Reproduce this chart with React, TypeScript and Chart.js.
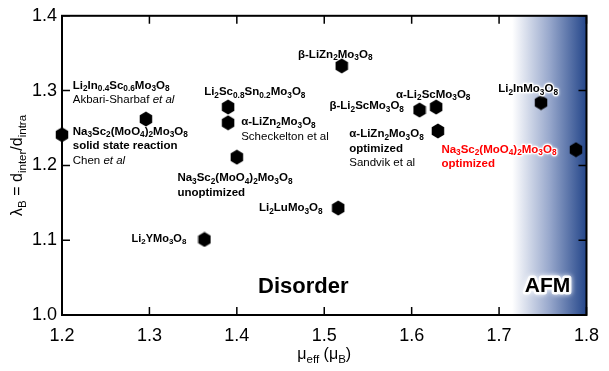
import React, { useEffect, useRef } from 'react';
import { Chart, registerables } from 'chart.js';

Chart.register(...registerables);

// ---- data ----
const compounds = [
  'Na3Sc2(MoO4)2Mo3O8 solid state reaction',
  'Li2In0.4Sc0.6Mo3O8',
  'Li2Sc0.8Sn0.2Mo3O8',
  'alpha-LiZn2Mo3O8 (Scheckelton)',
  'Na3Sc2(MoO4)2Mo3O8 unoptimized',
  'beta-LiZn2Mo3O8',
  'Li2LuMo3O8',
  'beta-Li2ScMo3O8',
  'alpha-Li2ScMo3O8',
  'alpha-LiZn2Mo3O8 optimized (Sandvik)',
  'Li2InMo3O8',
  'Na3Sc2(MoO4)2Mo3O8 optimized',
  'Li2YMo3O8',
];
const muEff = [1.2, 1.296, 1.39, 1.39, 1.4, 1.52, 1.516, 1.609, 1.628, 1.63, 1.748, 1.788, 1.363];
const lambdaB = [1.241, 1.262, 1.278, 1.257, 1.211, 1.333, 1.143, 1.274, 1.278, 1.246, 1.284, 1.221, 1.101];

const xMin = 1.2;
const xMax = 1.8;
const yMin = 1.0;
const yMax = 1.4;
const tickStep = 0.1;
const afmStart = 1.715;

const xTitle = 'μ_{eff} (μ_{B})';
const yTitle = 'λ_{B} = d_{inter}/d_{intra}';

// ---- annotations (anchored in data units) ----
type Line = { t: string; bold: boolean };
type Note = { lines: Line[]; x: number; y: number; size: number; color: string; glow: number };

const B = (t: string): Line => ({ t, bold: true });
const N = (t: string): Line => ({ t, bold: false });

const LS = 11.5;
const notes: Note[] = [
  { lines: [B('Li_{2}In_{0.4}Sc_{0.6}Mo_{3}O_{8}'), N('Akbari-Sharbaf ~{et al}')], x: 1.2123, y: 1.307, size: LS, color: '#000', glow: 0 },
  { lines: [B('Na_{3}Sc_{2}(MoO_{4})_{2}Mo_{3}O_{8}'), B('solid state reaction'), N('Chen ~{et al}')], x: 1.2123, y: 1.245, size: LS, color: '#000', glow: 0 },
  { lines: [B('Li_{2}Sc_{0.8}Sn_{0.2}Mo_{3}O_{8}')], x: 1.3626, y: 1.298, size: LS, color: '#000', glow: 0 },
  { lines: [B('α-LiZn_{2}Mo_{3}O_{8}'), N('Scheckelton et al')], x: 1.405, y: 1.258, size: LS, color: '#000', glow: 0 },
  { lines: [B('Na_{3}Sc_{2}(MoO_{4})_{2}Mo_{3}O_{8}'), B('unoptimized')], x: 1.332, y: 1.183, size: LS, color: '#000', glow: 0 },
  { lines: [B('β-LiZn_{2}Mo_{3}O_{8}')], x: 1.47, y: 1.348, size: LS, color: '#000', glow: 0 },
  { lines: [B('Li_{2}LuMo_{3}O_{8}')], x: 1.4254, y: 1.143, size: LS, color: '#000', glow: 0 },
  { lines: [B('β-Li_{2}ScMo_{3}O_{8}')], x: 1.506, y: 1.279, size: LS, color: '#000', glow: 0 },
  { lines: [B('α-Li_{2}ScMo_{3}O_{8}')], x: 1.582, y: 1.295, size: LS, color: '#000', glow: 0 },
  { lines: [B('α-LiZn_{2}Mo_{3}O_{8}'), B('optimized'), N('Sandvik et al')], x: 1.5286, y: 1.242, size: LS, color: '#000', glow: 0 },
  { lines: [B('Li_{2}InMo_{3}O_{8}')], x: 1.699, y: 1.302, size: LS, color: '#000', glow: 2.5 },
  { lines: [B('Na_{3}Sc_{2}(MoO_{4})_{2}Mo_{3}O_{8}'), B('optimized')], x: 1.634, y: 1.221, size: LS, color: '#ff0000', glow: 2.5 },
  { lines: [B('Li_{2}YMo_{3}O_{8}')], x: 1.2796, y: 1.102, size: 11, color: '#000', glow: 0 },
  { lines: [B('Disorder')], x: 1.4243, y: 1.037, size: 22, color: '#000', glow: 0 },
  { lines: [B('AFM')], x: 1.7294, y: 1.039, size: 21, color: '#000', glow: 5 },
];

const FONT = '"Liberation Sans", Arial, sans-serif';

type Seg = { t: string; sub: boolean; it: boolean };
function parse(s: string): Seg[] {
  const out: Seg[] = [];
  let i = 0;
  let buf = '';
  while (i < s.length) {
    if ((s[i] === '_' || s[i] === '~') && s[i + 1] === '{') {
      if (buf) out.push({ t: buf, sub: false, it: false });
      buf = '';
      const end = s.indexOf('}', i);
      out.push({ t: s.slice(i + 2, end), sub: s[i] === '_', it: s[i] === '~' });
      i = end + 1;
    } else {
      buf += s[i];
      i++;
    }
  }
  if (buf) out.push({ t: buf, sub: false, it: false });
  return out;
}

function fontFor(seg: Seg, size: number, bold: boolean) {
  const sz = seg.sub ? size * 0.72 : size;
  return `${seg.it ? 'italic ' : ''}${bold ? 'bold ' : ''}${sz}px ${FONT}`;
}

function measureRich(ctx: CanvasRenderingContext2D, s: string, size: number, bold: boolean) {
  let w = 0;
  for (const seg of parse(s)) {
    ctx.font = fontFor(seg, size, bold);
    w += ctx.measureText(seg.t).width;
  }
  return w;
}

function drawRich(
  ctx: CanvasRenderingContext2D, s: string, x: number, y: number, size: number,
  bold: boolean, color: string, glow: number,
) {
  ctx.textBaseline = 'middle';
  ctx.textAlign = 'left';
  const segs = parse(s);
  // glow pass first so it never covers neighbouring glyphs
  if (glow > 0) {
    let gx = x;
    ctx.save();
    ctx.strokeStyle = 'rgba(255,255,255,0.9)';
    ctx.lineWidth = glow;
    ctx.lineJoin = 'round';
    ctx.shadowColor = 'white';
    ctx.shadowBlur = glow;
    for (const seg of segs) {
      ctx.font = fontFor(seg, size, bold);
      const dy = seg.sub ? size * 0.3 : 0;
      ctx.strokeText(seg.t, gx, y + dy);
      gx += ctx.measureText(seg.t).width;
    }
    ctx.restore();
  }
  let cx = x;
  for (const seg of segs) {
    ctx.font = fontFor(seg, size, bold);
    const dy = seg.sub ? size * 0.3 : 0;
    ctx.fillStyle = color;
    ctx.fillText(seg.t, cx, y + dy);
    cx += ctx.measureText(seg.t).width;
  }
}

function makeHexagon(): HTMLCanvasElement {
  const c = document.createElement('canvas');
  c.width = 14;
  c.height = 16;
  const g = c.getContext('2d')!;
  g.fillStyle = '#000';
  g.beginPath();
  for (let k = 0; k < 6; k++) {
    const a = Math.PI / 2 + (k * Math.PI) / 3;
    const px = 7 + 7.2 * Math.cos(a);
    const py = 8 + 7.6 * Math.sin(a);
    if (k === 0) g.moveTo(px, py);
    else g.lineTo(px, py);
  }
  g.closePath();
  g.fill();
  return c;
}

const decorPlugin = {
  id: 'decor',
  beforeDatasetsDraw(chart: any) {
    const { ctx, chartArea } = chart;
    const xs = chart.scales.x;
    const x0 = xs.getPixelForValue(afmStart);
    const grad = ctx.createLinearGradient(x0, 0, chartArea.right, 0);
    grad.addColorStop(0, 'rgba(255,255,255,1)');
    grad.addColorStop(0.5, '#98a8cc');
    grad.addColorStop(1, '#24468a');
    ctx.save();
    ctx.fillStyle = grad;
    ctx.fillRect(x0, chartArea.top, chartArea.right - x0, chartArea.bottom - chartArea.top);
    ctx.restore();

    // frame + inward ticks
    const ys = chart.scales.y;
    ctx.save();
    ctx.strokeStyle = '#000';
    ctx.lineWidth = 2;
    ctx.strokeRect(chartArea.left, chartArea.top, chartArea.right - chartArea.left, chartArea.bottom - chartArea.top);
    ctx.lineWidth = 1.5;
    const L = 8;
    ctx.beginPath();
    for (const t of xs.ticks) {
      const px = xs.getPixelForValue(t.value);
      ctx.moveTo(px, chartArea.bottom);
      ctx.lineTo(px, chartArea.bottom - L);
      ctx.moveTo(px, chartArea.top);
      ctx.lineTo(px, chartArea.top + L);
    }
    for (const t of ys.ticks) {
      const py = ys.getPixelForValue(t.value);
      ctx.moveTo(chartArea.left, py);
      ctx.lineTo(chartArea.left + L, py);
      ctx.moveTo(chartArea.right, py);
      ctx.lineTo(chartArea.right - L, py);
    }
    ctx.stroke();
    ctx.restore();
  },
  afterDraw(chart: any) {
    const { ctx, chartArea } = chart;
    const xs = chart.scales.x;
    const ys = chart.scales.y;
    ctx.save();
    for (const n of notes) {
      const px = xs.getPixelForValue(n.x);
      const py = ys.getPixelForValue(n.y);
      const lh = n.size * 1.25;
      n.lines.forEach((ln, i) => {
        drawRich(ctx, ln.t, px, py + i * lh, n.size, ln.bold, n.color, n.glow);
      });
    }
    // axis titles
    const xt = 16;
    const wx = measureRich(ctx, xTitle, xt, false);
    const cxm = (chartArea.left + chartArea.right) / 2;
    drawRich(ctx, xTitle, cxm - wx / 2, 355, xt, false, '#000', 0);

    const yt = 16;
    const wy = measureRich(ctx, yTitle, yt, false);
    ctx.translate(18, (chartArea.top + chartArea.bottom) / 2);
    ctx.rotate(-Math.PI / 2);
    drawRich(ctx, yTitle, -wy / 2, 0, yt, false, '#000', 0);
    ctx.restore();
  },
};

export default function App() {
  const ref = useRef<HTMLCanvasElement>(null);
  useEffect(() => {
    const hex = makeHexagon();
    const chart = new Chart(ref.current!, {
      type: 'scatter',
      data: {
        datasets: [
          {
            label: 'compounds',
            data: muEff.map((x, i) => ({ x, y: lambdaB[i] })),
            pointStyle: hex as any,
            backgroundColor: '#000',
            borderColor: '#000',
            clip: false as any,
          },
        ],
      },
      options: {
        animation: false,
        responsive: false,
        maintainAspectRatio: false,
        layout: { padding: { left: 0, right: 12, top: 13, bottom: 0 } },
        plugins: { legend: { display: false }, tooltip: { enabled: false } },
        scales: {
          x: {
            type: 'linear',
            min: xMin,
            max: xMax,
            ticks: {
              stepSize: tickStep,
              color: '#000',
              padding: 10,
              font: { family: FONT, size: 18 },
              callback: (v: any) => Number(v).toFixed(1),
            },
            grid: { display: false, drawTicks: false },
            border: { display: false },
            afterFit: (s: any) => { s.height = 56; },
          },
          y: {
            type: 'linear',
            min: yMin,
            max: yMax,
            ticks: {
              stepSize: tickStep,
              color: '#000',
              padding: 5,
              font: { family: FONT, size: 18 },
              callback: (v: any) => Number(v).toFixed(1),
            },
            grid: { display: false, drawTicks: false },
            border: { display: false },
            afterFit: (s: any) => { s.width = 62; },
          },
        },
      },
      plugins: [decorPlugin],
    });
    return () => chart.destroy();
  }, []);
  return (
    <div style={{ position: 'fixed', left: 0, top: 0, width: 609, height: 371, background: '#fff' }}>
      <canvas ref={ref} width={609} height={371} style={{ width: 609, height: 371 }} />
    </div>
  );
}
